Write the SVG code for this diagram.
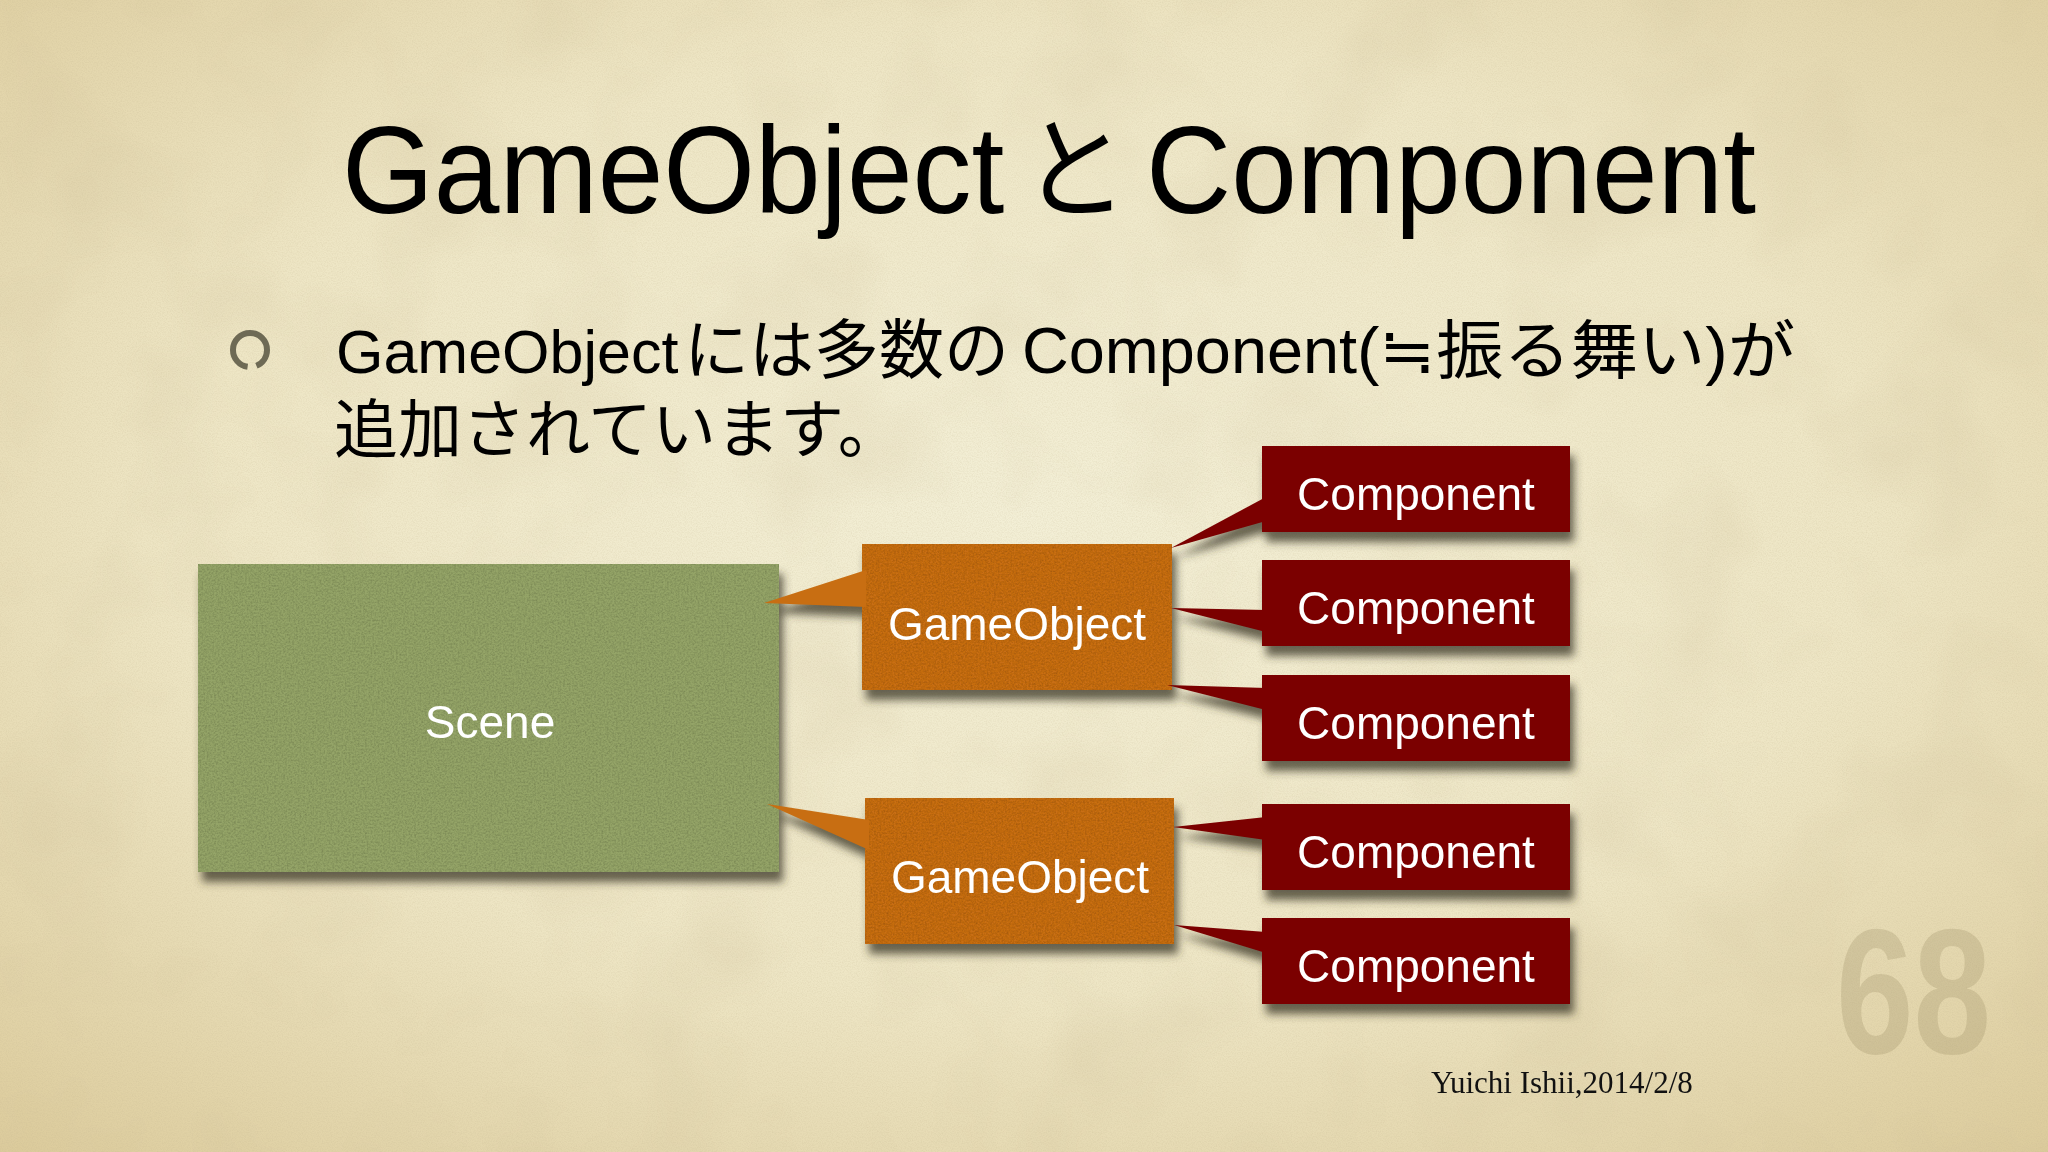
<svg xmlns="http://www.w3.org/2000/svg" width="2048" height="1152" viewBox="0 0 2048 1152">
<defs>
<radialGradient id="bg" cx="50%" cy="45%" r="75%">
<stop offset="0" stop-color="#f3efd6"/>
<stop offset="0.55" stop-color="#eee6c5"/>
<stop offset="1" stop-color="#dccb9b"/>
</radialGradient>
<filter id="mottle" x="0" y="0" width="100%" height="100%">
<feTurbulence type="fractalNoise" baseFrequency="0.008" numOctaves="3" seed="3" result="n"/>
<feColorMatrix in="n" type="matrix" values="0 0 0 0 0.6  0 0 0 0 0.5  0 0 0 0 0.3  0.45 0 0 0 -0.2"/>
</filter>
<filter id="grain" x="0" y="0" width="100%" height="100%">
<feTurbulence type="fractalNoise" baseFrequency="0.8" numOctaves="2" seed="7" result="n"/>
<feColorMatrix in="n" type="matrix" values="0 0 0 0 0.5  0 0 0 0 0.42  0 0 0 0 0.25  0.4 0 0 0 -0.15"/>
</filter>
<filter id="shadow" x="-10%" y="-20%" width="130%" height="160%">
<feGaussianBlur in="SourceAlpha" stdDeviation="4"/>
<feOffset dx="4" dy="10" result="b"/>
<feFlood flood-color="#3a3626" flood-opacity="0.75"/>
<feComposite in2="b" operator="in"/>
</filter>
<filter id="felt" x="0" y="0" width="100%" height="100%">
<feTurbulence type="fractalNoise" baseFrequency="0.55" numOctaves="3" seed="11" result="n"/>
<feColorMatrix in="n" type="matrix" values="0 0 0 0 0  0 0 0 0 0  0 0 0 0 0  0.6 0 0 0 -0.2" result="d"/>
<feComposite in="d" in2="SourceGraphic" operator="in" result="t"/>
<feMerge><feMergeNode in="SourceGraphic"/><feMergeNode in="t"/></feMerge>
</filter>
</defs>
<style>
.scene{fill:#94a468}
.go{fill:#c86e12}
.comp{fill:#7b0000}
.lbl{font-family:"Liberation Sans",Arial,sans-serif;font-size:46px;fill:#ffffff;text-anchor:middle}
.jp{font-family:"Liberation Sans","Noto Sans CJK JP",sans-serif;fill:#000}
</style>

<rect width="2048" height="1152" fill="url(#bg)"/>
<rect width="2048" height="1152" filter="url(#mottle)"/>
<rect width="2048" height="1152" filter="url(#grain)"/>

<g id="title" transform="translate(0,213) scale(1,1.06) translate(0,-213)">
<text class="jp" x="342" y="213" font-size="118">GameObject</text>
<text class="jp" x="1022" y="210" font-size="106">と</text>
<text class="jp" x="1146" y="213" font-size="118">Component</text>
</g>

<g id="bullet">
<circle cx="250" cy="350" r="17" fill="none" stroke="#6e6a55" stroke-width="6" stroke-dasharray="20 9 78"/>
<text class="jp" x="336" y="373" font-size="61">GameObject</text>
<text class="jp" x="684" y="373" font-size="65">には多数の</text>
<text class="jp" x="1022" y="373" font-size="64" textLength="335" lengthAdjust="spacingAndGlyphs">Component</text>
<text class="jp" x="1357" y="373" font-size="64" textLength="438" lengthAdjust="spacingAndGlyphs">(≒振る舞い)が</text>
<text class="jp" x="334" y="452" font-size="64">追加されています。</text>
</g>

<g id="shadows" filter="url(#shadow)">
<use href="#scene-rect"/>
<use href="#go1-rect"/>
<use href="#go2-rect"/>
<use href="#c1-rect"/>
<use href="#c2-rect"/>
<use href="#c3-rect"/>
<use href="#c4-rect"/>
<use href="#c5-rect"/>
<use href="#e-go1"/>
<use href="#e-go2"/>
<use href="#e-c1"/>
<use href="#e-c2"/>
<use href="#e-c3"/>
<use href="#e-c4"/>
<use href="#e-c5"/>
</g>

<g id="scene">
<rect id="scene-rect" class="scene" x="198" y="564" width="581" height="308" filter="url(#felt)"/>
<text class="lbl" x="490" y="738">Scene</text>
</g>

<g id="gameobject1">
<rect id="go1-rect" class="go" x="862" y="544" width="310" height="146" filter="url(#felt)"/>
</g>
<g id="gameobject2">
<rect id="go2-rect" class="go" x="865" y="798" width="309" height="146" filter="url(#felt)"/>
</g>

<g id="component1"><rect id="c1-rect" class="comp" x="1262" y="446" width="308" height="86"/></g>
<g id="component2"><rect id="c2-rect" class="comp" x="1262" y="560" width="308" height="86"/></g>
<g id="component3"><rect id="c3-rect" class="comp" x="1262" y="675" width="308" height="86"/></g>
<g id="component4"><rect id="c4-rect" class="comp" x="1262" y="804" width="308" height="86"/></g>
<g id="component5"><rect id="c5-rect" class="comp" x="1262" y="918" width="308" height="86"/></g>

<g id="connectors">
<polygon id="e-go1" class="go" points="764,603 866,570 866,607"/>
<polygon id="e-go2" class="go" points="767,804 869,820 869,850"/>
<polygon id="e-c1" class="comp" points="1171,548 1266,497 1266,521"/>
<polygon id="e-c2" class="comp" points="1171,608 1266,610 1266,632"/>
<polygon id="e-c3" class="comp" points="1167,685 1266,688 1266,710"/>
<polygon id="e-c4" class="comp" points="1173,827 1266,817 1266,840"/>
<polygon id="e-c5" class="comp" points="1174,925 1266,932 1266,953"/>
</g>

<g id="labels">
<text class="lbl" x="1017" y="640">GameObject</text>
<text class="lbl" x="1020" y="893">GameObject</text>
<text class="lbl" x="1416" y="510">Component</text>
<text class="lbl" x="1416" y="624">Component</text>
<text class="lbl" x="1416" y="739">Component</text>
<text class="lbl" x="1416" y="868">Component</text>
<text class="lbl" x="1416" y="982">Component</text>
</g>

<text x="1836" y="1053" font-family="Liberation Sans,Arial,sans-serif" font-weight="bold" font-size="178" textLength="155" lengthAdjust="spacingAndGlyphs" fill="#8a7a50" fill-opacity="0.22">68</text>
<text x="1431" y="1093" font-family="Liberation Serif,'Times New Roman',serif" font-size="31" fill="#111">Yuichi Ishii,2014/2/8</text>
</svg>
